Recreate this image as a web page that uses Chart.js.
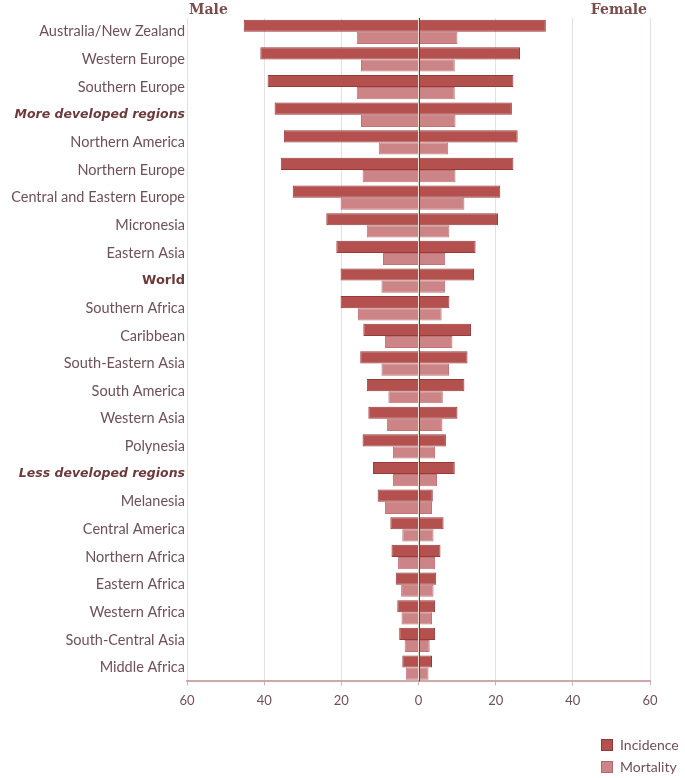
<!DOCTYPE html>
<html>
<head>
<meta charset="utf-8">
<script src="https://cdn.jsdelivr.net/npm/chart.js@4"></script>
<style>
  html, body { margin: 0; padding: 0; background: #fff; }
  #wrap { position: relative; width: 685px; height: 778px; }
  #legend { position: absolute; left: 601px; top: 737px; font-family: Lato, sans-serif; font-size: 14px; color: #6e5058; }
  #legend div { height: 22px; line-height: 16px; }
  #legend span.box { display: inline-block; width: 10px; height: 10px; margin-right: 7px; vertical-align: -1px; border: 1px solid #8c3a3a; }
</style>
</head>
<body>
<div id="wrap">
  <canvas id="chart" width="685" height="778"></canvas>
  <div id="legend">
    <div><span class="box" style="background:#b4504e"></span>Incidence</div>
    <div><span class="box" style="background:#cc8486;border-color:#b06a6c"></span>Mortality</div>
  </div>
</div>
<script>
// Regions, top to bottom
const regions = [
    "Australia/New Zealand", "Western Europe", "Southern Europe", "More developed regions",
    "Northern America", "Northern Europe", "Central and Eastern Europe", "Micronesia",
    "Eastern Asia", "World", "Southern Africa", "Caribbean", "South-Eastern Asia",
    "South America", "Western Asia", "Polynesia", "Less developed regions", "Melanesia",
    "Central America", "Northern Africa", "Eastern Africa", "Western Africa",
    "South-Central Asia", "Middle Africa"
];

// Rates per 100,000
const incidenceMale = [45.3, 41.0, 39.1, 37.3, 34.9, 35.7, 32.6, 23.9, 21.3, 20.2, 20.2, 14.3,
    15.1, 13.4, 13.0, 14.5, 11.8, 10.6, 7.3, 7.0, 5.9, 5.5, 5.0, 4.2];
const incidenceFemale = [33.0, 26.3, 24.6, 24.2, 25.7, 24.6, 21.2, 20.6, 14.8, 14.4, 8.0, 13.6,
    12.7, 11.9, 10.1, 7.1, 9.4, 3.7, 6.5, 5.7, 4.6, 4.3, 4.3, 3.5];
const mortalityMale = [16.0, 14.9, 16.0, 14.9, 10.3, 14.5, 20.2, 13.4, 9.2, 9.6, 15.7, 8.7,
    9.6, 7.8, 8.2, 6.6, 6.6, 8.7, 4.2, 5.3, 4.5, 4.4, 3.6, 3.3];
const mortalityFemale = [10.1, 9.4, 9.4, 9.6, 7.7, 9.6, 11.9, 8.0, 6.9, 6.9, 6.0, 8.8,
    7.9, 6.3, 6.2, 4.3, 4.8, 3.5, 3.9, 4.3, 3.9, 3.5, 2.9, 2.6];

const xTicks = [-60, -40, -20, 0, 20, 40, 60];

const incColor = '#b4504e';
const mortColor = '#cc8486';

// Male / Female headings and the zero line
const extras = {
    id: 'extras',
    afterDatasetsDraw(chart) {
        const ctx = chart.ctx;
        const x = chart.scales.x;
        const area = chart.chartArea;
        const x0 = x.getPixelForValue(0);
        ctx.save();
        ctx.strokeStyle = '#8a2f32';
        ctx.lineWidth = 1;
        ctx.beginPath();
        ctx.moveTo(Math.round(x0) + 0.5, area.top);
        ctx.lineTo(Math.round(x0) + 0.5, area.bottom);
        ctx.stroke();

        ctx.fillStyle = '#7a4c4c';
        ctx.font = 'bold 14px "DejaVu Serif", serif';
        ctx.textBaseline = 'middle';
        ctx.textAlign = 'left';
        ctx.fillText('Male', x.getPixelForValue(-60) + 2, 10);
        ctx.textAlign = 'right';
        ctx.fillText('Female', x.getPixelForValue(60) - 3, 10);
        ctx.restore();
    }
};

const ctx = document.getElementById('chart').getContext('2d');
new Chart(ctx, {
    type: 'bar',
    data: {
        labels: regions,
        datasets: [
            { label: 'Incidence', data: incidenceMale.map(v => -v), stack: 'inc',
              backgroundColor: incColor, borderColor: '#98393a', borderWidth: 1 },
            { label: 'Incidence', data: incidenceFemale, stack: 'inc',
              backgroundColor: incColor, borderColor: '#98393a', borderWidth: 1 },
            { label: 'Mortality', data: mortalityMale.map(v => -v), stack: 'mort',
              backgroundColor: mortColor, borderColor: '#c07476', borderWidth: 1 },
            { label: 'Mortality', data: mortalityFemale, stack: 'mort',
              backgroundColor: mortColor, borderColor: '#c07476', borderWidth: 1 }
        ]
    },
    options: {
        indexAxis: 'y',
        responsive: false,
        animation: false,
        layout: { padding: { left: 2, right: 35, top: 18, bottom: 61 } },
        datasets: { bar: { categoryPercentage: 0.88, barPercentage: 1.0 } },
        plugins: {
            legend: { display: false },
            tooltip: { enabled: false }
        },
        scales: {
            x: {
                stacked: true,
                min: -60,
                max: 60,
                afterBuildTicks: s => { s.ticks = xTicks.map(v => ({ value: v })); },
                ticks: {
                    callback: v => Math.abs(v),
                    color: '#6e5058',
                    font: { family: 'Lato', size: 13 },
                    padding: 8
                },
                grid: { color: '#eadede', lineWidth: 1, drawTicks: true, tickLength: 4, tickColor: '#d4b0b0' },
                border: { display: true, color: '#cfa9aa', width: 2 }
            },
            y: {
                afterFit: s => { s.width = 185; },
                ticks: {
                    color: c => {
                        const l = regions[c.index];
                        return (l === 'World' || l.indexOf('developed') >= 0) ? '#6b3a3c' : '#6e5058';
                    },
                    font: c => {
                        const l = regions[c.index];
                        if (l.indexOf('developed') >= 0) return { family: 'DejaVu Sans', size: 12.5, weight: 'bold', style: 'italic' };
                        if (l === 'World') return { family: 'DejaVu Sans', size: 13, weight: 'bold' };
                        return { family: 'Lato', size: 14.5 };
                    },
                    padding: 2,
                    autoSkip: false
                },
                grid: { display: false, drawTicks: false },
                border: { display: false }
            }
        }
    },
    plugins: [extras]
});
</script>
</body>
</html>
